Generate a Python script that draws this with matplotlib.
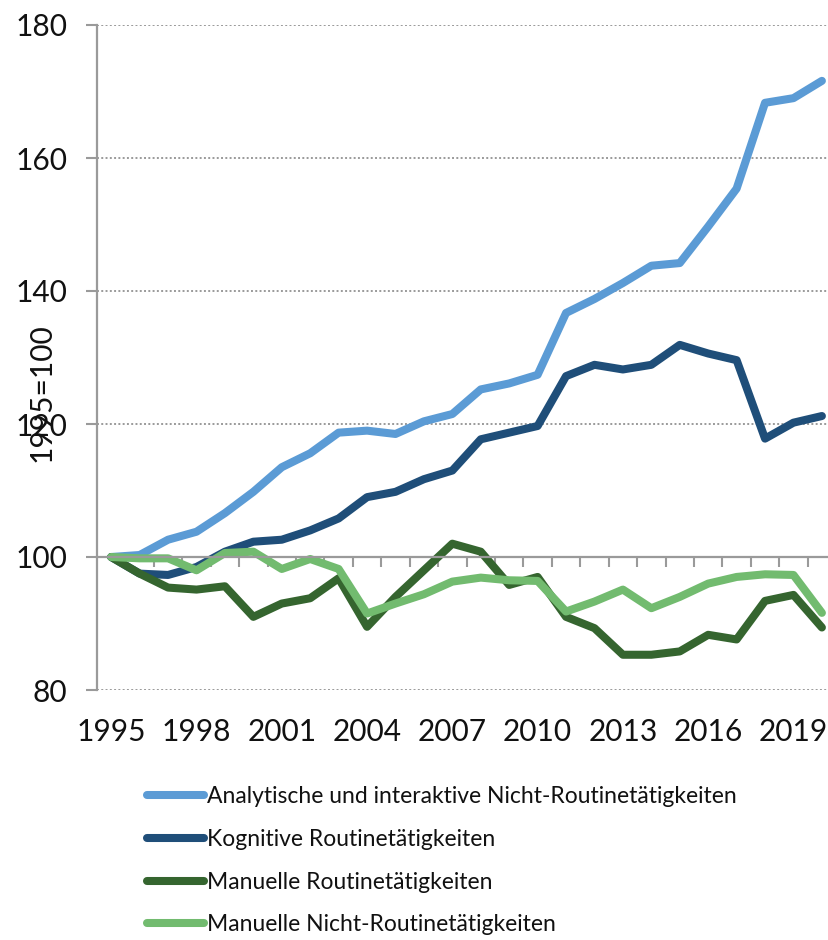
import numpy as np
import matplotlib.pyplot as plt

years = np.arange(1995, 2021)

analytisch = [100.0, 100.3, 102.6, 103.8, 106.6, 109.8, 113.5, 115.6, 118.7, 119.0,
              118.5, 120.4, 121.5, 125.2, 126.1, 127.4, 136.7, 138.8, 141.2, 143.8,
              144.2, 149.7, 155.4, 168.3, 169.0, 171.6]
kognitiv = [100.0, 97.5, 97.3, 98.5, 100.8, 102.3, 102.6, 104.0, 105.8, 109.0,
            109.8, 111.7, 113.0, 117.7, 118.7, 119.7, 127.2, 128.9, 128.2, 128.9,
            131.9, 130.6, 129.6, 117.8, 120.2, 121.2]
manuell_routine = [100.0, 97.5, 95.4, 95.1, 95.6, 91.0, 93.0, 93.8, 96.8, 89.5,
                   94.0, 98.0, 102.0, 100.8, 95.8, 97.0, 91.0, 89.3, 85.3, 85.3,
                   85.8, 88.3, 87.6, 93.4, 94.3, 89.4]
manuell_nicht = [100.0, 99.8, 99.8, 98.0, 100.6, 100.8, 98.2, 99.7, 98.2, 91.5,
                 93.0, 94.4, 96.3, 96.9, 96.5, 96.4, 91.8, 93.3, 95.1, 92.3,
                 94.0, 96.0, 97.0, 97.4, 97.3, 91.6]

labels = ["Analytische und interaktive Nicht-Routinetätigkeiten",
          "Kognitive Routinetätigkeiten",
          "Manuelle Routinetätigkeiten",
          "Manuelle Nicht-Routinetätigkeiten"]
colors = ["#5B9BD5", "#1F4E79", "#35652F", "#72BB6F"]
y_ticks = [80, 100, 120, 140, 160, 180]
x_label_years = years[::3]

plt.rcParams['font.family'] = ['Lato', 'DejaVu Sans']
axis_gray = "#9A9A9A"

fig = plt.figure(figsize=(8.29, 9.4), dpi=100)
ax = fig.add_axes([97 / 829, 1 - 690 / 940, (829 - 97) / 829, 665 / 940])

for series, lab, col in zip([analytisch, kognitiv, manuell_routine, manuell_nicht], labels, colors):
    ax.plot(years, series, color=col, lw=5.8, label=lab,
            solid_capstyle='round', solid_joinstyle='round')

ax.set_xlim(1994.5, 2020.25)
ax.set_ylim(80, 180)

# y axis
ax.set_yticks(y_ticks)
ax.tick_params(axis='y', direction='out', length=8, width=1.5, color=axis_gray,
               pad=13.5, labelsize=21.5)
for t in ax.get_yticklabels():
    t.set_color("#111111")
ax.yaxis.grid(True, linestyle=(0, (1, 1.2)), color=axis_gray, lw=1.4)
ax.set_axisbelow(True)

# horizontal axis crosses at 100
ax.spines['bottom'].set_position(('data', 100))
ax.spines['bottom'].set_color(axis_gray)
ax.spines['bottom'].set_linewidth(1.6)
ax.spines['left'].set_color(axis_gray)
ax.spines['left'].set_linewidth(1.6)
ax.spines['top'].set_visible(False)
ax.spines['right'].set_visible(False)
ax.set_xticks(np.arange(1995.5, 2020, 1.0))
ax.set_xticklabels([])
ax.tick_params(axis='x', direction='out', length=7.5, width=1.5, color=axis_gray)

# year labels at the bottom
sec = ax.secondary_xaxis(0)
sec.set_xticks(x_label_years)
sec.set_xticklabels([str(y) for y in x_label_years])
sec.tick_params(length=0, pad=20, labelsize=21.5, labelcolor="#111111")
sec.spines['bottom'].set_visible(False)

fig.text(42 / 829, 1 - 393 / 940, "1995=100", rotation=90, ha='center', va='center',
         fontsize=21.5, color="#111111")

leg = ax.legend(loc='upper left', bbox_to_anchor=(147 / 829, 1 - 786 / 940),
                bbox_transform=fig.transFigure, frameon=False, fontsize=16.5,
                handlelength=2.5, handletextpad=0.1, labelspacing=0.95,
                borderaxespad=0, borderpad=0)
for line in leg.get_lines():
    line.set_linewidth(5.8)
for t in leg.get_texts():
    t.set_color("#111111")

fig.savefig("out.png", dpi=100)
